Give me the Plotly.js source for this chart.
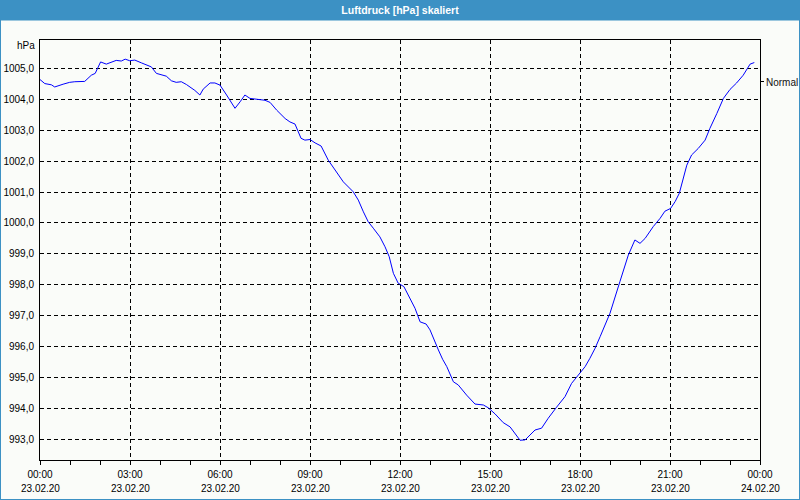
<!DOCTYPE html>
<html>
<head>
<meta charset="utf-8">
<script src="https://cdn.plot.ly/plotly-3.0.1.min.js"></script>
<style>
html,body{margin:0;padding:0;background:#fafcf9;}
#chart{width:800px;height:500px;}
</style>
</head>
<body>
<div id="chart"></div>
<script>
// Hours since 23.02.20 00:00
const hours = [0.0,0.16,0.38,0.49,0.77,0.99,1.16,1.49,1.60,1.71,1.84,1.93,2.02,2.21,2.32,2.54,2.71,2.84,2.99,3.16,3.38,3.60,3.71,3.88,4.07,4.21,4.38,4.54,4.71,4.88,5.16,5.33,5.44,5.67,5.83,6.00,6.22,6.50,6.67,6.83,7.00,7.22,7.50,7.67,7.89,8.17,8.33,8.50,8.70,8.83,9.00,9.17,9.37,9.61,9.83,10.11,10.44,10.61,10.78,10.94,11.11,11.33,11.50,11.64,11.78,11.94,12.13,12.33,12.50,12.67,12.87,13.00,13.13,13.28,13.42,13.56,13.78,13.94,14.22,14.50,14.78,14.94,15.17,15.44,15.67,15.83,16.00,16.17,16.50,16.72,16.94,17.22,17.50,17.72,18.00,18.17,18.33,18.50,18.67,19.00,19.33,19.61,19.83,20.00,20.17,20.44,20.67,20.83,21.02,21.17,21.31,21.42,21.56,21.72,21.94,22.17,22.33,22.56,22.78,23.00,23.22,23.44,23.67,23.81];
const pressure = [1004.64,1004.51,1004.47,1004.40,1004.49,1004.55,1004.57,1004.58,1004.68,1004.78,1004.84,1005.00,1005.21,1005.14,1005.18,1005.26,1005.24,1005.30,1005.25,1005.27,1005.18,1005.11,1005.05,1004.84,1004.78,1004.75,1004.60,1004.55,1004.57,1004.48,1004.29,1004.14,1004.33,1004.53,1004.53,1004.46,1004.14,1003.71,1003.92,1004.14,1004.03,1004.01,1003.97,1003.90,1003.65,1003.38,1003.27,1003.20,1002.74,1002.68,1002.70,1002.59,1002.49,1002.03,1001.73,1001.33,1001.01,1000.74,1000.36,1000.04,999.83,999.55,999.23,998.91,998.37,998.05,997.94,997.56,997.24,996.80,996.73,996.54,996.21,995.89,995.59,995.35,994.86,994.76,994.43,994.14,994.11,994.02,993.82,993.54,993.40,993.18,992.97,992.98,993.30,993.36,993.68,994.04,994.38,994.81,995.16,995.35,995.62,995.94,996.32,997.08,998.10,998.96,999.45,999.34,999.50,999.88,1000.15,1000.38,1000.47,1000.69,1000.96,1001.39,1001.87,1002.20,1002.41,1002.68,1003.06,1003.54,1004.03,1004.32,1004.53,1004.78,1005.14,1005.19];

const tickHours = [0,3,6,9,12,15,18,21,24];
const tickTimes = ["00:00","03:00","06:00","09:00","12:00","15:00","18:00","21:00","00:00"];
const tickDates = ["23.02.20","23.02.20","23.02.20","23.02.20","23.02.20","23.02.20","23.02.20","23.02.20","24.02.20"];
const yTicks = [993,994,995,996,997,998,999,1000,1001,1002,1003,1004,1005];

const titleText = "Luftdruck [hPa] skaliert";
const unitText = "hPa";
const seriesName = "Normal";

const FONT = "Liberation Sans, Arial, sans-serif";
const BLUE = "#3c91c4";
const W = 720, H = 420, L = 40, T = 40;
const px2x = p => (p - L) / W;
const py2y = p => (T + H - p) / H;

const annotations = tickHours.map((h, i) => ({
  x: h, xref: "x", y: py2y(488.5), yref: "paper",
  text: tickDates[i], showarrow: false, xanchor: "center", yanchor: "middle",
  font: {family: FONT, size: 10, color: "#000"}
}));
annotations.push({
  x: px2x(37), xref: "paper", y: py2y(45.5), yref: "paper", text: unitText,
  showarrow: false, xanchor: "right", yanchor: "middle",
  font: {family: FONT, size: 10, color: "#000"}
});
annotations.push({
  x: px2x(764), xref: "paper", y: py2y(82), yref: "paper", text: seriesName,
  showarrow: false, xanchor: "left", yanchor: "middle",
  font: {family: FONT, size: 10, color: "#111"}
});

const shapes = [
  {type: "rect", xref: "paper", yref: "paper", x0: px2x(0), x1: px2x(800), y0: py2y(20.5), y1: py2y(0), fillcolor: BLUE, line: {width: 0}, layer: "below"},
  {type: "line", xref: "paper", yref: "paper", x0: px2x(0.5), x1: px2x(0.5), y0: py2y(20), y1: py2y(500), line: {color: BLUE, width: 1}},
  {type: "line", xref: "paper", yref: "paper", x0: px2x(799.5), x1: px2x(799.5), y0: py2y(20), y1: py2y(500), line: {color: BLUE, width: 1}},
  {type: "line", xref: "paper", yref: "paper", x0: px2x(0), x1: px2x(800), y0: py2y(499.5), y1: py2y(499.5), line: {color: BLUE, width: 1}},
  {type: "line", xref: "paper", yref: "paper", x0: px2x(760), x1: px2x(764), y0: py2y(81.5), y1: py2y(81.5), line: {color: "#000", width: 1}}
];

const trace = {
  x: hours, y: pressure, type: "scatter", mode: "lines", name: seriesName,
  line: {color: "#0000ff", width: 1}, hoverinfo: "skip"
};

const layout = {
  width: 800, height: 500,
  margin: {l: L, r: 40, t: T, b: 40, pad: 0},
  paper_bgcolor: "#fafcf9", plot_bgcolor: "#fafcf9",
  showlegend: false,
  separators: ",.",
  title: {text: titleText, x: 0.5, xref: "paper", y: 1 - 10/500, yref: "container", yanchor: "middle",
          font: {family: FONT, size: 10.5, color: "#ffffff", weight: "bold"}},
  xaxis: {
    range: [0, 24], tickmode: "array", tickvals: tickHours, ticktext: tickTimes,
    showline: true, linecolor: "#000", linewidth: 1, mirror: true,
    ticks: "outside", ticklen: 4, tickcolor: "#000", tickwidth: 1,
    showgrid: true, gridcolor: "#000", gridwidth: 1, griddash: "4px,3px",
    zeroline: false, ticklabelstandoff: 1,
    tickfont: {family: FONT, size: 10, color: "#000"},
    minor: {dtick: 1, tick0: 0, ticks: "outside", ticklen: 4, tickcolor: "#000", tickwidth: 1, showgrid: false},
    fixedrange: true
  },
  yaxis: {
    range: [992.33, 1005.92], tickmode: "array", tickvals: yTicks, tickformat: ".1f",
    showline: true, linecolor: "#000", linewidth: 1, mirror: true,
    ticks: "", showgrid: true, gridcolor: "#000", gridwidth: 1, griddash: "4px,3px",
    zeroline: false, ticklabelstandoff: 3,
    tickfont: {family: FONT, size: 10, color: "#000"},
    fixedrange: true
  },
  annotations: annotations,
  shapes: shapes
};

Plotly.newPlot("chart", [trace], layout, {staticPlot: true, displayModeBar: false});
</script>
</body>
</html>
